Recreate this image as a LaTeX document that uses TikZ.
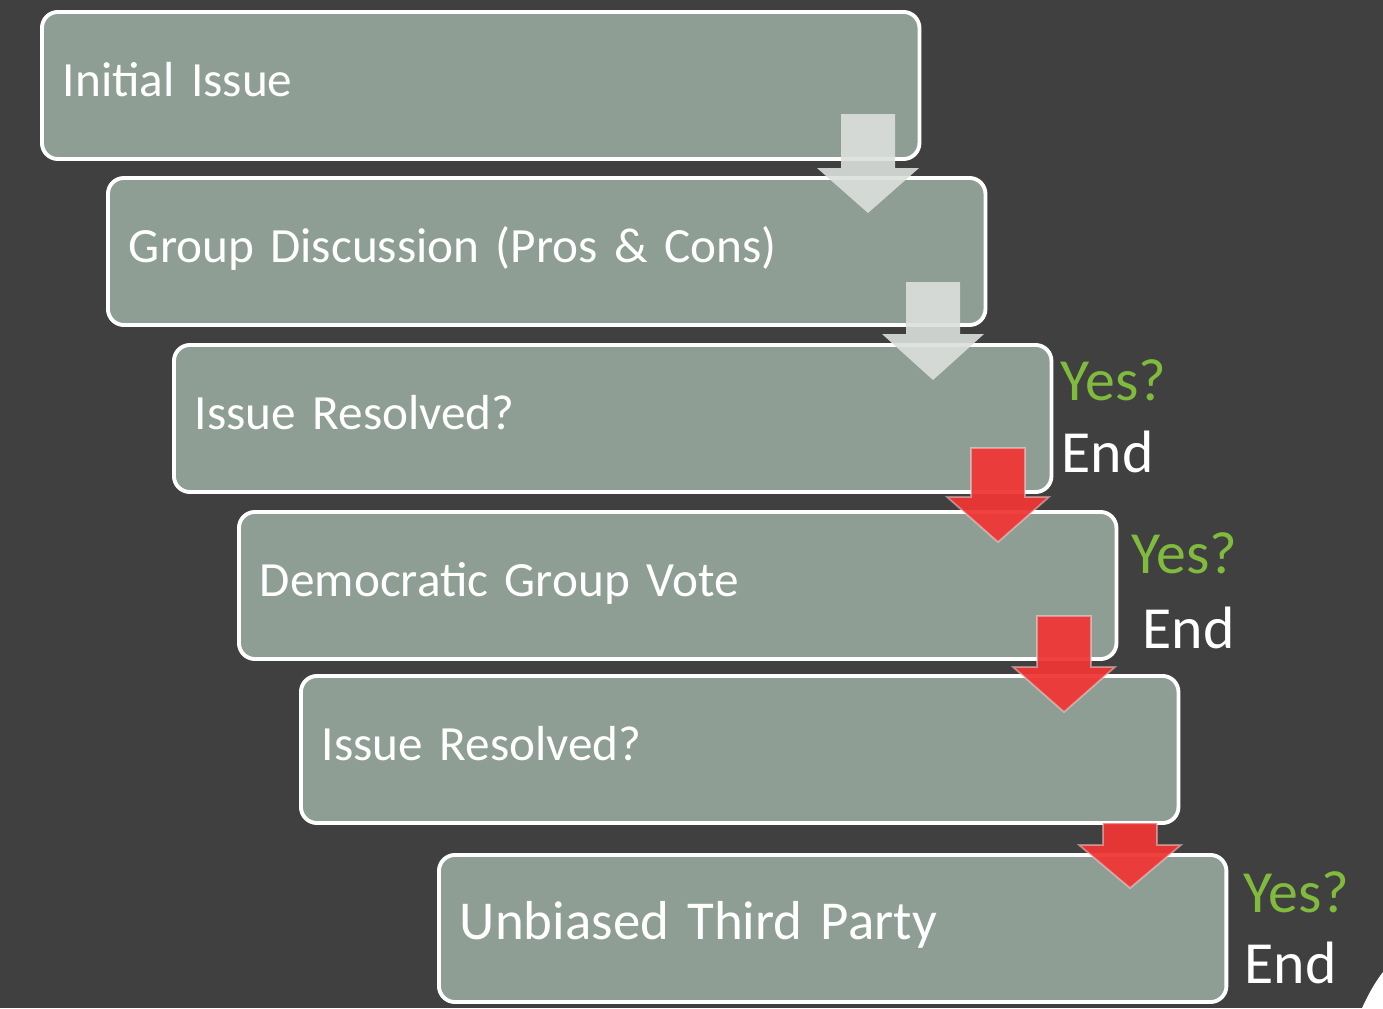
\documentclass[tikz,border=0pt]{standalone}
\usepackage{fontspec}
\setmainfont{Carlito}
\usepackage{tikz}

\definecolor{slatebg}{HTML}{404040}
\definecolor{sagebox}{HTML}{8E9E94}
\definecolor{palearrow}{HTML}{DCE0DD}
\definecolor{redarrow}{HTML}{F03636}
\definecolor{yesgreen}{HTML}{80BB3E}

\tikzset{
  issuebox/.style={draw=white, line width=1.1pt, fill=sagebox,
    rounded corners=0.16cm, anchor=north west,
    minimum width=8.77cm, minimum height=1.47cm,
    text width=8.35cm, align=left, inner xsep=0.21cm,
    text height=0.9em, text depth=0.26em,
    text=white, font=\fontsize{14}{17}\selectfont},
  answer/.style={anchor=base west, inner sep=0pt,
    font=\fontsize{17}{20}\selectfont},
  palestep/.style={fill=palearrow, fill opacity=0.9, draw=none},
  redstep/.style={fill=redarrow, fill opacity=0.94,
    draw=white, draw opacity=0.4, line width=0.5pt}
}

% #1 style, #2 centre x, #3 top, #4 neck, #5 tip
\newcommand{\downblock}[5]{%
  \filldraw[#1] (#2-27,#3) -- (#2+27,#3) -- (#2+27,#4) -- (#2+51,#4)
    -- (#2,#5) -- (#2-51,#4) -- (#2-27,#4) -- cycle;}

\begin{document}
\begin{tikzpicture}[x=0.01cm,y=-0.01cm]
      \fill[slatebg] (0,0) rectangle (1383,1008);
      \node[issuebox] (initial) at (40,10) {Initial Issue};
      \node[issuebox] (discuss) at (106,176) {Group Discussion (Pros \& Cons)};
      \node[issuebox] (resolvedA) at (172,343) {Issue Resolved?};
      \node[issuebox] (vote) at (237,510) {Democratic Group Vote};
      \node[issuebox] (resolvedB) at (299,674) {Issue Resolved?};
      \node[issuebox, minimum width=7.87cm, text width=7.45cm,
        font=\fontsize{15.6}{18}\selectfont] (thirdparty) at (437,853)
        {Unbiased Third Party};
      % step arrows
      \downblock{palestep}{868}{114}{168}{213}
      \downblock{palestep}{933}{282}{334}{380}
      \downblock{redstep}{998}{448}{497}{542}
      \downblock{redstep}{1064}{616}{667}{712}
      \downblock{redstep}{1130}{823}{845}{888}
      % answers
      \node[answer, text=yesgreen] (yesA) at (1060,400) {Yes?};
      \node[answer, text=white] (endA) at (1061,472) {End};
      \node[answer, text=yesgreen] (yesB) at (1131,573) {Yes?};
      \node[answer, text=white] (endB) at (1142,648) {End};
      \node[answer, text=yesgreen] (yesC) at (1243,912) {Yes?};
      \node[answer, text=white] (endC) at (1244,983) {End};
      \fill[white] (1362,1008) .. controls (1368,995) and (1375,982) .. (1383,972)
        -- (1383,1008) -- cycle;
    \end{tikzpicture}
\end{document}
